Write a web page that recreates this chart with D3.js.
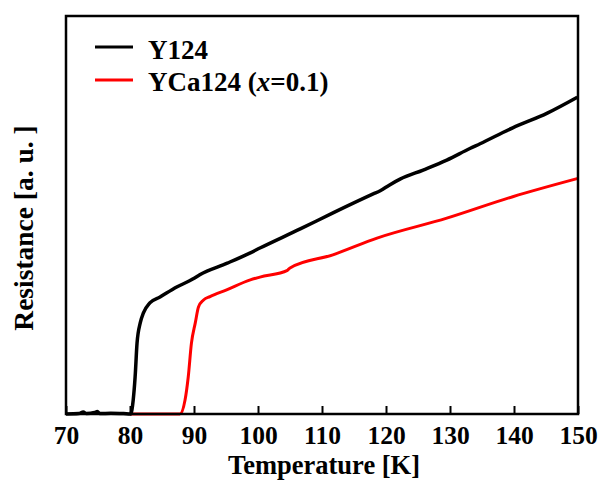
<!DOCTYPE html>
<html>
<head>
<meta charset="utf-8">
<script src="https://cdn.jsdelivr.net/npm/d3@7"></script>
<style>
  body { margin: 0; background: #fff; }
  text { font-family: "Liberation Serif", "Times New Roman", serif; font-weight: bold; }
</style>
</head>
<body>
<div class="chart"></div>
<script>
// temperature [K] and resistance [a. u.]
const y124T = [70, 72, 72.7, 73.2, 74.5, 74.9, 75.3, 77, 79, 80.1, 80.5, 80.8, 81.1, 81.6, 82.1, 83.1, 84.7, 87.3, 89.8, 90.9, 95.2, 98.8, 100.3, 106.6, 111.8, 118, 119.1, 120.5, 122.2, 125.8, 129.5, 133.1, 134.7, 139.8, 145.2, 149.9];
const y124R = [0, 0.001, 0.005, 0.001, 0.004, 0.006, 0.001, 0.002, 0.001, 0, 0.035, 0.093, 0.178, 0.229, 0.254, 0.279, 0.294, 0.319, 0.339, 0.35, 0.379, 0.405, 0.417, 0.465, 0.506, 0.553, 0.561, 0.575, 0.59, 0.613, 0.638, 0.667, 0.679, 0.719, 0.756, 0.796];

const yca124T = [80, 87.8, 88.6, 89.1, 89.6, 90.2, 90.7, 91.45, 92.5, 95.1, 98.8, 100.3, 104.6, 105, 111.7, 118.6, 129.5, 139.8, 150];
const yca124R = [0, 0, 0.035, 0.093, 0.178, 0.229, 0.269, 0.286, 0.295, 0.312, 0.337, 0.344, 0.361, 0.367, 0.4, 0.442, 0.492, 0.546, 0.592];

const xTicks = [70, 80, 90, 100, 110, 120, 130, 140, 150];
const seriesNames = ["Y124", "YCa124"];
const seriesColors = ["#000000", "#ff0000"];

const width = 598, height = 480;
const margin = {top: 16, right: 20, bottom: 66, left: 66};

const svg = d3.select(".chart").append("svg")
    .attr("width", width)
    .attr("height", height);

const x = d3.scaleLinear().domain([70, 150]).range([margin.left, width - margin.right]);
const y = d3.scaleLinear().domain([0, 1]).range([height - margin.bottom, margin.top]);

const line = d3.line()
    .x(d => x(d[0]))
    .y(d => y(d[1]))
    .curve(d3.curveMonotoneX);

const series = [
    d3.zip(y124T, y124R),
    d3.zip(yca124T, yca124R)
];

// red drawn first, black on top
svg.append("g")
    .selectAll("path")
    .data([1, 0])
    .join("path")
    .attr("fill", "none")
    .attr("stroke", i => seriesColors[i])
    .attr("stroke-width", i => i === 0 ? 3.5 : 3)
    .attr("stroke-linejoin", "round")
    .attr("d", i => line(series[i]));

// frame
svg.append("rect")
    .attr("x", x(70))
    .attr("y", y(1))
    .attr("width", x(150) - x(70))
    .attr("height", y(0) - y(1))
    .attr("fill", "none")
    .attr("stroke", "#000")
    .attr("stroke-width", 2.5);

// bottom axis, ticks pointing in
const xAxis = svg.append("g")
    .attr("transform", `translate(0,${y(0)})`)
    .call(d3.axisBottom(x).tickValues(xTicks).tickSizeInner(-8).tickSizeOuter(0).tickPadding(12));
xAxis.select(".domain").remove();
xAxis.selectAll("line").attr("stroke-width", 2);
xAxis.selectAll("text")
    .attr("font-size", 25.5)
    .attr("fill", "#000")
    .style("font-family", "'Liberation Serif', 'Times New Roman', serif")
    .style("font-weight", "bold");

svg.append("text")
    .attr("x", (x(70) + x(150)) / 2 + 2)
    .attr("y", 474)
    .attr("text-anchor", "middle")
    .attr("font-size", 26.5)
    .text("Temperature [K]");

svg.append("text")
    .attr("transform", `translate(33,228) rotate(-90)`)
    .attr("text-anchor", "middle")
    .attr("font-size", 27.5)
    .text("Resistance [a. u. ]");

// legend
const legend = svg.append("g");
const legY = [47, 80];
legend.selectAll("line")
    .data([0, 1])
    .join("line")
    .attr("x1", 95).attr("x2", 133)
    .attr("y1", i => legY[i]).attr("y2", i => legY[i])
    .attr("stroke", i => seriesColors[i])
    .attr("stroke-width", 3);

legend.append("text")
    .attr("x", 148).attr("y", legY[0] + 12)
    .attr("font-size", 27)
    .text(seriesNames[0]);

const t2 = legend.append("text")
    .attr("x", 148).attr("y", legY[1] + 11)
    .attr("font-size", 27);
t2.append("tspan").text(seriesNames[1] + " (");
t2.append("tspan").attr("font-style", "italic").text("x");
t2.append("tspan").text("=0.1)");
</script>
</body>
</html>
